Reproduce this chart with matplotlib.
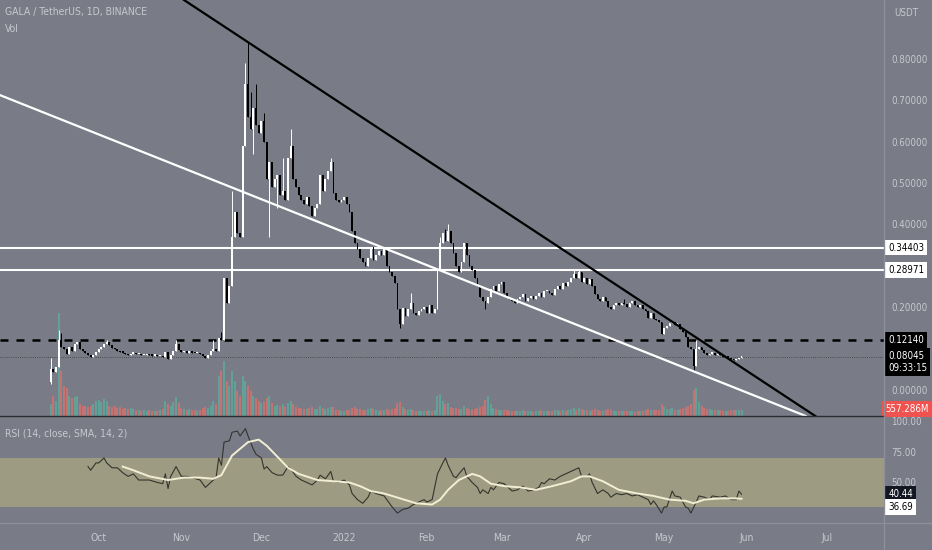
import numpy as np
import pandas as pd
import matplotlib
matplotlib.use('Agg')
import matplotlib.pyplot as plt
from matplotlib.lines import Line2D

plt.rcParams['font.family'] = ['DejaVu Sans']
plt.rcParams['font.stretch'] = 'condensed'

# ---- data (daily candles from 2021-09-13) ----
first_open = 0.020
closes = [
    0.050, 0.043, 0.056, 0.120, 0.105, 0.100, 0.088, 0.105, 0.095, 0.110,
    0.115, 0.100, 0.095, 0.090, 0.085, 0.080, 0.085, 0.092, 0.100, 0.105,
    0.112, 0.115, 0.108, 0.102, 0.098, 0.095, 0.092, 0.090, 0.087, 0.084,
    0.088, 0.090, 0.086, 0.087, 0.084, 0.085, 0.086, 0.085, 0.083, 0.084,
    0.082, 0.083, 0.080, 0.092, 0.074, 0.085, 0.095, 0.110, 0.097, 0.092,
    0.094, 0.090, 0.092, 0.090, 0.089, 0.090, 0.087, 0.082, 0.078, 0.085,
    0.093, 0.098, 0.095, 0.125, 0.120, 0.270, 0.210, 0.250, 0.370, 0.430,
    0.380, 0.370, 0.590, 0.740, 0.660, 0.630, 0.680, 0.640, 0.620, 0.650,
    0.600, 0.510, 0.550, 0.490, 0.510, 0.520, 0.470, 0.480, 0.460, 0.560,
    0.590, 0.510, 0.490, 0.470, 0.460, 0.450, 0.465, 0.445, 0.420, 0.440,
    0.450, 0.520, 0.480, 0.510, 0.530, 0.550, 0.475, 0.460, 0.455, 0.460,
    0.465, 0.450, 0.430, 0.385, 0.355, 0.340, 0.320, 0.310, 0.300, 0.320,
    0.345, 0.315, 0.325, 0.335, 0.325, 0.340, 0.300, 0.285, 0.275, 0.258,
    0.195, 0.160, 0.198, 0.178, 0.195, 0.210, 0.185, 0.180, 0.190, 0.195,
    0.200, 0.185, 0.205, 0.185, 0.195, 0.290, 0.355, 0.380, 0.360, 0.385,
    0.355, 0.330, 0.300, 0.285, 0.310, 0.355, 0.325, 0.300, 0.290, 0.270,
    0.250, 0.225, 0.215, 0.210, 0.225, 0.245, 0.250, 0.240, 0.255, 0.260,
    0.235, 0.225, 0.220, 0.215, 0.210, 0.220, 0.225, 0.232, 0.215, 0.222,
    0.228, 0.220, 0.228, 0.235, 0.225, 0.238, 0.240, 0.235, 0.230, 0.245,
    0.250, 0.245, 0.258, 0.252, 0.260, 0.270, 0.280, 0.270, 0.285, 0.260,
    0.270, 0.255, 0.268, 0.250, 0.232, 0.220, 0.215, 0.225, 0.215, 0.200,
    0.195, 0.205, 0.210, 0.205, 0.210, 0.208, 0.200, 0.210, 0.215, 0.205,
    0.200, 0.205, 0.195, 0.190, 0.175, 0.185, 0.172, 0.168, 0.165, 0.135,
    0.150, 0.155, 0.162, 0.165, 0.158, 0.160, 0.148, 0.140, 0.128, 0.103,
    0.098, 0.058, 0.100, 0.105, 0.097, 0.090, 0.085, 0.088, 0.090, 0.085,
    0.088, 0.085, 0.080, 0.082, 0.078, 0.075, 0.072, 0.075, 0.078, 0.0805,
]
# notable wicks (day index -> price)
wick_high = {0: 0.077, 3: 0.145, 4: 0.138, 21: 0.120, 47: 0.120, 61: 0.120,
             64: 0.140, 68: 0.480, 73: 0.790, 74: 0.840, 75: 0.720, 77: 0.740,
             80: 0.670, 87: 0.560, 90: 0.630, 105: 0.560, 135: 0.235,
             146: 0.370, 148: 0.390, 149: 0.400, 196: 0.290, 198: 0.290,
             215: 0.220, 228: 0.168, 242: 0.120}
wick_low = {0: 0.015, 76: 0.570, 82: 0.370, 85: 0.440, 131: 0.150,
            163: 0.195, 241: 0.048}

# volume, billions
volumes = [
    1.2, 2.0, 1.5, 10.3, 4.5, 3.0, 2.8, 2.0, 1.8, 1.9,
    2.0, 1.2, 1.0, 1.0, 0.9, 1.0, 1.2, 1.5, 1.6, 1.4,
    1.7, 1.5, 1.0, 0.9, 1.0, 0.8, 0.9, 0.7, 0.8, 0.7,
    0.8, 0.7, 0.6, 0.6, 0.5, 0.6, 0.5, 0.6, 0.5, 0.5,
    0.5, 0.6, 0.7, 1.5, 1.2, 1.0, 1.4, 1.9, 1.3, 0.8,
    0.7, 0.6, 0.7, 0.6, 0.6, 0.5, 0.6, 0.8, 0.9, 0.8,
    1.0, 1.5, 1.2, 4.0, 4.5, 5.5, 3.5, 3.0, 4.5, 3.5,
    2.5, 2.0, 4.0, 3.5, 3.0, 2.5, 2.0, 1.8, 1.5, 1.3,
    1.4, 1.8, 2.0, 1.3, 1.0, 1.1, 1.0, 1.2, 0.9, 1.3,
    1.5, 1.2, 0.9, 0.8, 0.8, 0.7, 0.7, 0.8, 0.9, 0.7,
    0.7, 1.0, 0.8, 0.7, 0.8, 0.9, 0.9, 0.6, 0.6, 0.5,
    0.5, 0.6, 0.6, 0.8, 0.9, 0.7, 0.7, 0.6, 0.6, 0.7,
    0.8, 0.7, 0.6, 0.5, 0.6, 0.6, 0.7, 0.6, 0.7, 0.8,
    1.3, 1.4, 0.9, 0.7, 0.6, 0.7, 0.6, 0.5, 0.5, 0.5,
    0.5, 0.5, 0.6, 0.5, 0.6, 2.0, 2.2, 1.5, 1.2, 1.3,
    0.9, 0.8, 0.8, 0.7, 0.7, 1.0, 0.8, 0.7, 0.6, 0.7,
    0.8, 0.9, 1.0, 1.6, 2.0, 1.2, 0.8, 0.7, 0.6, 0.6,
    0.6, 0.6, 0.5, 0.5, 0.5, 0.5, 0.5, 0.6, 0.5, 0.5,
    0.5, 0.4, 0.5, 0.5, 0.6, 0.5, 0.5, 0.5, 0.5, 0.6,
    0.6, 0.5, 0.6, 0.5, 0.6, 0.7, 0.8, 0.6, 0.8, 0.7,
    0.6, 0.6, 0.5, 0.6, 0.7, 0.6, 0.5, 0.5, 0.6, 0.7,
    0.6, 0.5, 0.5, 0.5, 0.5, 0.5, 0.5, 0.5, 0.5, 0.4,
    0.5, 0.5, 0.5, 0.6, 0.7, 0.6, 0.6, 0.6, 0.6, 1.2,
    0.9, 0.7, 0.7, 0.8, 0.6, 0.6, 0.7, 0.8, 0.9, 1.0,
    1.2, 2.6, 2.8, 1.4, 1.0, 0.8, 0.7, 0.7, 0.6, 0.6,
    0.6, 0.6, 0.5, 0.5, 0.5, 0.6, 0.6, 0.6, 0.6, 0.557,
]

# RSI(14) and its SMA, read at these day indices
rsi_days = [14, 15, 17, 18, 20, 21, 23, 25, 27, 29, 31, 33, 35, 37, 40, 42, 43, 44,
            45, 47, 49, 51, 53, 56, 58, 60, 62, 63, 64, 65, 67, 68, 70, 71, 73, 74,
            76, 77, 79, 80, 81, 83, 85, 87, 89, 90, 92, 94, 96, 98, 100, 101, 103,
            105, 106, 108, 110, 112, 113, 115, 117, 119, 120, 122, 125, 126, 128,
            130, 132, 134, 136, 138, 140, 141, 143, 145, 147, 148, 149, 151, 152,
            153, 155, 156, 158, 160, 161, 162, 164, 165, 166, 168, 170, 172, 173,
            175, 177, 179, 181, 183, 184, 185, 187, 189, 191, 193, 195, 197, 198,
            199, 201, 202, 203, 205, 207, 209, 210, 212, 214, 216, 218, 220, 222,
            224, 225, 226, 227, 229, 230, 231, 233, 234, 236, 238, 239, 240, 242,
            243, 245, 247, 248, 251, 253, 255, 257, 258, 259]
rsi_vals = [63, 60, 66, 66, 70, 66, 62, 62, 58, 55, 57, 52, 52, 52, 50, 49, 57, 45,
            55, 63, 55, 55, 54, 52, 46, 50, 54, 70, 64, 83, 84, 91, 92, 88, 94, 88,
            77, 73, 70, 61, 63, 58, 56, 56, 63, 61, 55, 52, 50, 48, 52, 56, 53,
            59, 51, 50, 52, 48, 41, 36, 33, 38, 43, 41, 39, 36, 30,
            25, 28, 29, 32, 34, 36, 34, 36, 57, 66, 70, 64, 55, 54,
            57, 62, 55, 50, 46, 41, 44, 41, 46, 44, 50, 49, 45, 43,
            44, 47, 43, 44, 46, 50, 49, 53, 52, 55, 57, 59, 61, 62,
            55, 55, 57, 50, 41, 44, 41, 38, 41, 40, 41, 39, 40, 38,
            36, 32, 35, 32, 25, 30, 30, 43, 39, 38, 30, 29, 25, 34,
            39, 38, 36, 39, 38, 39, 36, 36, 43, 40.44]
sma_days = [27, 31, 37, 44, 50, 56, 61, 64, 68, 74, 78, 81, 85, 89, 93, 100, 106,
            112, 116, 120, 125, 131, 137, 143, 146, 149, 153, 158, 161, 165, 170,
            176, 182, 188, 195, 199, 202, 207, 213, 220, 226, 232, 238, 241, 245,
            251, 257, 259]
sma_vals = [63, 60, 55, 52, 54, 54, 53, 56, 72, 83, 85, 80, 71, 62, 57, 52, 51,
            50, 47, 43, 41, 37, 33, 32, 36, 44, 52, 57, 55, 49, 47,
            46, 44, 47, 51, 55, 55, 51, 44, 41, 39, 36, 35, 33, 36,
            37, 37, 36.69]

hlines_white = [0.34403, 0.28971]
dashed_level = 0.12140
last_price = 0.08045
black_trend = [(74, 0.840), (257, 0.063)]
white_trend = [(68, 0.489), (250, 0.022)]
price_ticks = [0.0, 0.2, 0.4, 0.5, 0.6, 0.7, 0.8]
rsi_ticks = [50, 75, 100]

# ---- derived ----
closes = np.array(closes)
n = len(closes)
idx = np.arange(n)
opens = np.r_[first_open, closes[:-1]]
up = closes >= opens
hi = np.maximum(opens, closes)
lo = np.minimum(opens, closes)
for k, v in wick_high.items():
    hi[k] = v
for k, v in wick_low.items():
    lo[k] = v

start = pd.Timestamp('2021-09-13')
months = pd.date_range('2021-10-01', '2022-07-01', freq='MS')
month_idx = [(m - start).days for m in months]
month_lab = ['2022' if m.month == 1 else m.strftime('%b') for m in months]

bg = '#797c87'
txt = '#c6c8ce'
fs = 7

fig = plt.figure(figsize=(9.32, 5.5), dpi=100, facecolor=bg)
W, H = 932, 550
ax = fig.add_axes([0, 134 / H, 884 / W, 416 / H])
rax = fig.add_axes([0, 27 / H, 884 / W, 107 / H], sharex=ax)

# volume behind candles
vax = ax.twinx()
vax.set_zorder(ax.get_zorder() - 1)
ax.patch.set_visible(False)
vax.set_facecolor(bg)
vcol = np.where(up, '#62a197', '#c27372')
vax.bar(idx, volumes, width=0.75, color=vcol, linewidth=0)
vax.set_ylim(0, 41.6)
vax.axis('off')

# candles
ccol = np.where(up, '#ffffff', '#000000')
ax.vlines(idx, lo, hi, colors=ccol, linewidth=0.7, zorder=4)
body_h = np.maximum(np.abs(closes - opens), 0.003)
ax.bar(idx, body_h, bottom=np.minimum(opens, closes), width=0.7, color=ccol,
       linewidth=0, zorder=5)

# drawings
for lvl in hlines_white:
    ax.axhline(lvl, color='white', lw=1.5, zorder=3)
ax.axhline(dashed_level, color='black', lw=1.8, ls=(0, (3.2, 3.2)), zorder=3)
ax.axhline(last_price, color='#3a3a3a', lw=0.6, ls=(0, (1, 1.6)), zorder=3)
ax.axline(*black_trend, color='black', lw=1.6, zorder=6)
ax.axline(*white_trend, color='white', lw=1.6, zorder=6)

ax.set_xlim(-19, 312.4)
ax.set_ylim(-0.0628, 0.942)
for s in ax.spines.values():
    s.set_visible(False)
ax.yaxis.tick_right()
ax.set_yticks(price_ticks)
ax.set_yticklabels(['%.5f' % t for t in price_ticks])
ax.tick_params(axis='y', length=0, pad=5, labelsize=fs, labelcolor=txt)
ax.tick_params(axis='x', length=0, labelbottom=False)

ax.text(0.006, 0.972, 'GALA / TetherUS, 1D, BINANCE', transform=ax.transAxes,
        color=txt, fontsize=7.5, va='center')
ax.text(0.006, 0.93, 'Vol', transform=ax.transAxes, color=txt, fontsize=7.5,
        va='center')
fig.text(894 / W, 1 - 13 / H, 'USDT', color=txt, fontsize=fs, va='center')

ytr = ax.get_yaxis_transform()
box = dict(boxstyle='square,pad=0.3', ec='none')
for lvl in hlines_white:
    ax.annotate('%.5f' % lvl, xy=(1, lvl), xycoords=ytr, xytext=(3, 0),
                textcoords='offset points', va='center', fontsize=fs, color='black',
                bbox=dict(box, fc='white'), annotation_clip=False, zorder=10)
ax.annotate('%.5f' % dashed_level, xy=(1, dashed_level), xycoords=ytr, xytext=(3, 0),
            textcoords='offset points', va='center', fontsize=fs, color='white',
            bbox=dict(box, fc='black'), annotation_clip=False, zorder=10)
ax.annotate('%.5f\n09:33:15' % last_price, xy=(1, last_price), xycoords=ytr,
            xytext=(3, 4), textcoords='offset points', va='top', fontsize=fs,
            color='white', linespacing=1.25, bbox=dict(box, fc='black'),
            annotation_clip=False, zorder=10)
ax.annotate('557.286M', xy=(1, 0.017), xycoords=ax.transAxes, xytext=(1, 0),
            textcoords='offset points', va='center', fontsize=fs, color='white',
            bbox=dict(box, fc='#ef5350'), annotation_clip=False, zorder=10)

# RSI pane
rax.set_facecolor(bg)
rax.axhspan(30, 70, color='#9d9c82', lw=0, zorder=1)
rax.plot(rsi_days, rsi_vals, color='#34342f', lw=0.8, zorder=3)
rax.plot(sma_days, sma_vals, color='#f2eed4', lw=1.4, zorder=4)
rax.set_ylim(16.9, 104.3)
for s in rax.spines.values():
    s.set_visible(False)
rax.yaxis.tick_right()
rax.set_yticks(rsi_ticks)
rax.set_yticklabels(['%.2f' % t for t in rsi_ticks])
rax.tick_params(axis='y', length=0, pad=5, labelsize=fs, labelcolor=txt)
rax.set_xticks(month_idx)
rax.set_xticklabels(month_lab)
rax.tick_params(axis='x', length=0, pad=7, labelsize=fs + 0.5, labelcolor=txt)
rax.text(0.006, 0.84, 'RSI (14, close, SMA, 14, 2)', transform=rax.transAxes,
         color=txt, fontsize=7.5, va='center')
rtr = rax.get_yaxis_transform()
rax.annotate('%.2f' % rsi_vals[-1], xy=(1, rsi_vals[-1]), xycoords=rtr, xytext=(3, 0),
             textcoords='offset points', va='center', fontsize=fs, color='white',
             bbox=dict(box, fc='#131722'), annotation_clip=False, zorder=10)
rax.annotate('%.2f' % sma_vals[-1], xy=(1, sma_vals[-1]), xycoords=rtr, xytext=(3, -6),
             textcoords='offset points', va='center', fontsize=fs, color='black',
             bbox=dict(box, fc='white'), annotation_clip=False, zorder=10)

# pane separators
fig.add_artist(Line2D([0, 884 / W], [134 / H, 134 / H], color='#2a2b30', lw=1))
fig.add_artist(Line2D([0, 1], [27 / H, 27 / H], color='#8d9099', lw=1))
fig.add_artist(Line2D([884 / W, 884 / W], [0, 1], color='#8d9099', lw=1))

fig.savefig('out.png', dpi=100, facecolor=bg)
